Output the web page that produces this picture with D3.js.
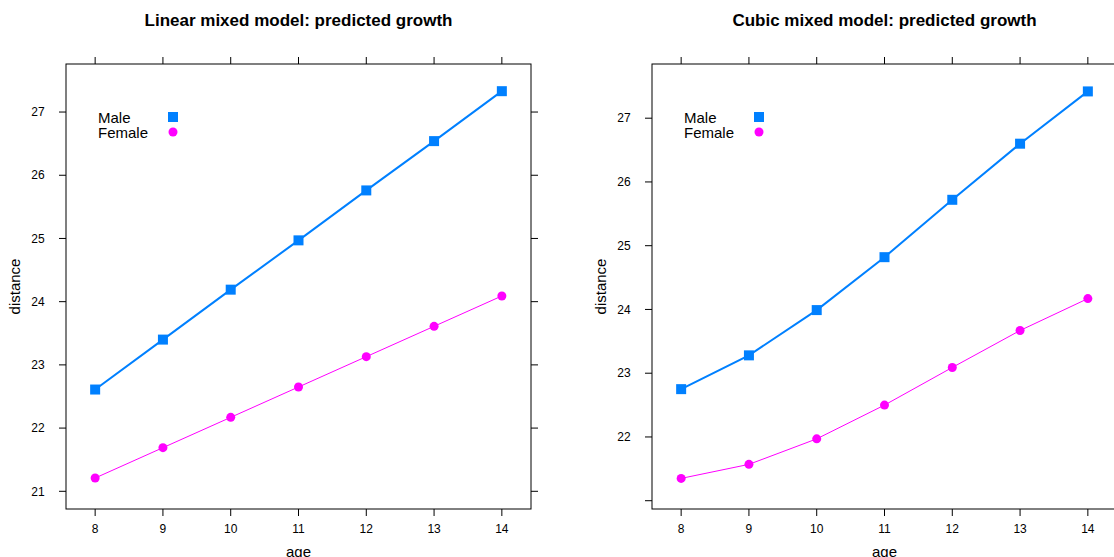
<!DOCTYPE html>
<html><head><meta charset="utf-8">
<script src="https://cdn.jsdelivr.net/npm/d3@7"></script>
<style>body{margin:0;background:#fff}text{font-family:"Liberation Sans",Arial,sans-serif}</style>
</head><body>
<svg id="c" width="1114" height="557"></svg>
<script>
const ages = [8, 9, 10, 11, 12, 13, 14];
const linearMale = [22.61, 23.40, 24.19, 24.97, 25.76, 26.54, 27.33];
const linearFemale = [21.21, 21.69, 22.17, 22.65, 23.13, 23.61, 24.09];
const cubicMale = [22.75, 23.28, 23.99, 24.82, 25.72, 26.60, 27.42];
const cubicFemale = [21.35, 21.57, 21.97, 22.50, 23.09, 23.67, 24.17];
const yTicksLinear = [21, 22, 23, 24, 25, 26, 27];
const yTicksCubic = [21, 22, 23, 24, 25, 26, 27];

const svg = d3.select("#c");
const maleCol = "#0080ff", femaleCol = "#ff00ff";

function panel(left, title, male, female, yDom, yTicks, yLabelFrom) {
  const box = { l: left, r: left + 465, t: 64, b: 509 };
  const x = d3.scaleLinear().domain([7.57, 14.43]).range([box.l, box.r]);
  const y = d3.scaleLinear().domain(yDom).range([box.b, box.t]);
  const g = svg.append("g");
  g.append("rect").attr("x", box.l).attr("y", box.t).attr("width", box.r - box.l).attr("height", box.b - box.t)
    .attr("fill", "none").attr("stroke", "#000").attr("stroke-width", 1);
  ages.forEach(a => {
    g.append("line").attr("x1", x(a)).attr("x2", x(a)).attr("y1", box.b).attr("y2", box.b + 7).attr("stroke", "#000");
    g.append("line").attr("x1", x(a)).attr("x2", x(a)).attr("y1", box.t).attr("y2", box.t - 7).attr("stroke", "#000");
    g.append("text").attr("x", x(a)).attr("y", box.b + 24).attr("text-anchor", "middle").attr("font-size", 12).text(a);
  });
  yTicks.forEach(v => {
    g.append("line").attr("x1", box.l).attr("x2", box.l - 7).attr("y1", y(v)).attr("y2", y(v)).attr("stroke", "#000");
    g.append("line").attr("x1", box.r).attr("x2", box.r + 7).attr("y1", y(v)).attr("y2", y(v)).attr("stroke", "#000");
    if (v >= yLabelFrom)
      g.append("text").attr("x", box.l - 28).attr("y", y(v)).attr("dy", "0.35em").attr("text-anchor", "middle").attr("font-size", 12).text(v);
  });
  g.append("text").attr("x", (box.l + box.r) / 2).attr("y", 26).attr("text-anchor", "middle")
    .attr("font-size", 17).attr("font-weight", "bold").text(title);
  g.append("text").attr("x", (box.l + box.r) / 2).attr("y", 557).attr("text-anchor", "middle").attr("font-size", 15).text("age");
  g.append("text").attr("transform", `translate(${box.l - 46},${(box.t + box.b) / 2}) rotate(-90)`)
    .attr("text-anchor", "middle").attr("font-size", 15).text("distance");
  const line = d3.line().x((d, i) => x(ages[i])).y(d => y(d));
  g.append("path").attr("d", line(female)).attr("fill", "none").attr("stroke", femaleCol).attr("stroke-width", 1);
  g.append("path").attr("d", line(male)).attr("fill", "none").attr("stroke", maleCol).attr("stroke-width", 2);
  female.forEach((v, i) => g.append("circle").attr("cx", x(ages[i])).attr("cy", y(v)).attr("r", 4.5).attr("fill", femaleCol));
  male.forEach((v, i) => g.append("rect").attr("x", x(ages[i]) - 5).attr("y", y(v) - 5).attr("width", 10).attr("height", 10).attr("fill", maleCol));
  g.append("text").attr("x", box.l + 32).attr("y", 123).attr("font-size", 15).text("Male");
  g.append("text").attr("x", box.l + 32).attr("y", 138).attr("font-size", 15).text("Female");
  g.append("rect").attr("x", box.l + 102).attr("y", 112).attr("width", 10).attr("height", 10).attr("fill", maleCol);
  g.append("circle").attr("cx", box.l + 107).attr("cy", 132).attr("r", 4.5).attr("fill", femaleCol);
}

panel(66, "Linear mixed model: predicted growth", linearMale, linearFemale, [20.72, 27.76], yTicksLinear, 21);
panel(652, "Cubic mixed model: predicted growth", cubicMale, cubicFemale, [20.87, 27.85], yTicksCubic, 22);
</script>
</body></html>
